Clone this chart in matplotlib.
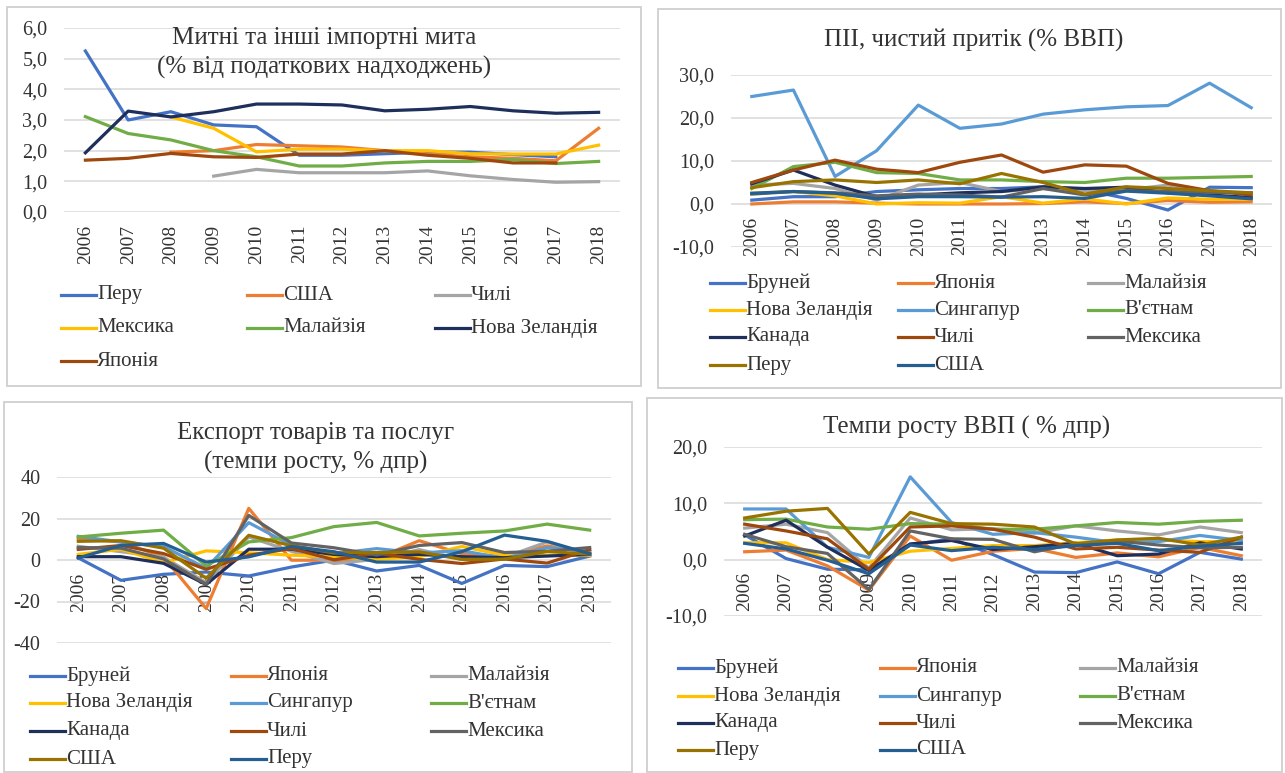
import numpy as np
import matplotlib.pyplot as plt
from matplotlib.lines import Line2D
from matplotlib.patches import Rectangle

plt.rcParams['font.family'] = ['Liberation Serif', 'DejaVu Serif']

W, H = 1285, 773
TXT = '#333333'
GRID = '#d9d9d9'
nan = np.nan

years = [str(y) for y in range(2006, 2019)]

# --- Митні та інші імпортні мита (% від податкових надходжень)
tariff_names = ['Перу', 'США', 'Чилі', 'Мексика', 'Малайзія', 'Нова Зеландія', 'Японія']
tariff_peru = [5.25, 3.0, 3.27, 2.84, 2.78, 1.85, 1.85, 1.9, 1.95, 1.95, 1.87, 1.8, nan]
tariff_usa = [nan, nan, 1.95, 2.0, 2.2, 2.16, 2.12, 2.0, 1.89, 1.8, 1.75, 1.67, 2.73]
tariff_chile = [nan, nan, nan, 1.17, 1.39, 1.28, 1.28, 1.28, 1.34, 1.18, 1.06, 0.97, 0.99]
tariff_mexico = [nan, nan, 3.1, 2.73, 1.96, 2.05, 2.05, 2.0, 2.0, 1.9, 1.89, 1.89, 2.18]
tariff_malaysia = [3.11, 2.56, 2.35, 2.0, 1.8, 1.5, 1.5, 1.6, 1.65, 1.65, 1.71, 1.58, 1.65]
tariff_nz = [1.93, 3.29, 3.1, 3.27, 3.52, 3.52, 3.49, 3.3, 3.35, 3.44, 3.3, 3.22, 3.25]
tariff_japan = [1.69, 1.75, 1.91, 1.8, 1.78, 1.89, 1.89, 2.0, 1.85, 1.75, 1.6, 1.6, nan]
tariff_series = [tariff_peru, tariff_usa, tariff_chile, tariff_mexico,
                 tariff_malaysia, tariff_nz, tariff_japan]
tariff_colors = ['#4472c4', '#ed7d31', '#a5a5a5', '#ffc000', '#70ad47', '#1f2f5c', '#9e480e']

# --- ПІІ, чистий притік (% ВВП)
fdi_names = ['Бруней', 'Японія', 'Малайзія', 'Нова Зеландія', 'Сингапур', "В'єтнам",
             'Канада', 'Чилі', 'Мексика', 'Перу', 'США']
fdi_brunei = [0.9, 1.7, 1.7, 2.9, 3.3, 3.6, 3.6, 4.0, 3.3, 1.3, -1.4, 3.9, 3.8]
fdi_japan = [0.0, 0.5, 0.5, 0.2, 0.0, 0.0, 0.0, 0.1, 0.5, 0.1, 0.8, 0.4, 0.5]
fdi_malaysia = [4.4, 4.8, 3.6, 0.9, 4.4, 5.0, 2.9, 3.6, 3.1, 3.3, 4.4, 2.9, 2.5]
fdi_nz = [2.5, 2.9, 1.9, 0.0, 0.3, 0.2, 1.7, 0.2, 1.2, 0.0, 1.4, 1.1, 1.1]
fdi_singapore = [25.0, 26.5, 6.4, 12.4, 23.0, 17.6, 18.6, 20.9, 21.9, 22.6, 22.9, 28.1, 22.4]
fdi_vietnam = [3.6, 8.7, 9.7, 7.3, 7.1, 5.6, 5.6, 5.2, 5.0, 6.0, 6.0, 6.2, 6.4]
fdi_canada = [4.7, 7.9, 4.4, 1.7, 2.1, 2.6, 2.9, 4.0, 3.6, 3.9, 2.6, 2.1, 1.5]
fdi_chile = [5.0, 7.9, 10.2, 8.1, 7.3, 9.7, 11.4, 7.4, 9.1, 8.8, 4.8, 3.1, 2.1]
fdi_mexico = [2.3, 2.9, 2.6, 1.9, 2.3, 2.1, 1.6, 3.6, 2.1, 3.1, 2.9, 2.7, 2.6]
fdi_peru = [3.8, 5.2, 5.6, 5.0, 5.6, 4.7, 7.1, 5.0, 2.3, 4.0, 3.6, 3.1, 2.6]
fdi_usa = [2.5, 2.9, 2.5, 1.2, 1.7, 1.7, 1.6, 1.7, 1.3, 3.0, 2.5, 1.9, 1.2]
fdi_series = [fdi_brunei, fdi_japan, fdi_malaysia, fdi_nz, fdi_singapore, fdi_vietnam,
              fdi_canada, fdi_chile, fdi_mexico, fdi_peru, fdi_usa]

# --- Експорт товарів та послуг (темпи росту, % дпр)
exp_names = ['Бруней', 'Японія', 'Малайзія', 'Нова Зеландія', 'Сингапур', "В'єтнам",
             'Канада', 'Чилі', 'Мексика', 'США', 'Перу']
exp_brunei = [1.0, -9.8, -6.9, -5.8, -7.7, -3.4, 0.0, -5.3, -2.6, -11.3, -2.6, -3.2, 1.9]
exp_japan = [10.3, 8.7, 1.4, -23.4, 24.9, -0.1, -0.1, 0.8, 9.3, 3.0, 1.7, 6.8, 3.4]
exp_malaysia = [6.6, 4.0, 1.4, -10.9, 11.1, 4.2, -1.7, 0.3, 5.0, 0.3, 1.3, 8.7, 2.2]
exp_nz = [2.7, 5.2, -1.3, 4.4, 3.5, 2.3, 1.6, 0.3, 1.6, 6.5, 2.3, 2.3, 2.3]
exp_singapore = [11.4, 8.7, 6.5, -4.0, 18.0, 7.1, 3.0, 5.5, 3.4, 4.5, 0.8, 5.9, 4.2]
exp_vietnam = [11.1, 12.9, 14.4, -2.9, 8.7, 10.8, 16.1, 18.1, 11.6, 12.9, 14.0, 17.3, 14.4]
exp_canada = [1.6, 1.6, -1.6, -11.8, 5.2, 5.2, 2.7, 1.6, 2.7, 1.6, 1.1, 1.9, 2.7]
exp_chile = [5.1, 7.0, 3.1, -4.5, 2.3, 5.5, 0.1, 3.3, 0.3, -1.7, 0.5, -1.5, 5.0]
exp_mexico = [6.0, 5.7, 0.5, -11.7, 21.5, 8.2, 5.9, 2.4, 7.0, 8.4, 3.6, 4.2, 6.0]
exp_usa = [9.0, 9.3, 5.7, -8.8, 11.9, 6.9, 3.4, 3.6, 3.9, 0.3, 0.4, 4.1, 2.8]
exp_peru = [1.0, 7.0, 8.0, -1.0, 1.5, 6.5, 4.0, -1.0, -1.0, 4.0, 12.0, 9.0, 3.0]
exp_series = [exp_brunei, exp_japan, exp_malaysia, exp_nz, exp_singapore, exp_vietnam,
              exp_canada, exp_chile, exp_mexico, exp_usa, exp_peru]

# --- Темпи росту ВВП ( % дпр)
gdp_names = fdi_names
gdp_brunei = [4.4, 0.2, -1.7, -1.8, 2.6, 3.7, 0.9, -2.2, -2.3, -0.4, -2.5, 1.3, 0.1]
gdp_japan = [1.4, 1.7, -1.1, -5.4, 4.2, -0.1, 1.5, 2.0, 0.4, 1.2, 0.5, 2.2, 0.7]
gdp_malaysia = [5.6, 6.3, 4.8, -1.5, 7.4, 5.3, 5.5, 4.7, 6.0, 5.1, 4.4, 5.8, 4.8]
gdp_nz = [3.0, 3.0, 0.0, -0.5, 1.5, 2.0, 2.5, 2.5, 3.0, 3.5, 3.5, 3.2, 3.2]
gdp_singapore = [9.0, 9.0, 2.2, 0.4, 14.7, 6.6, 4.5, 4.8, 4.0, 3.0, 3.2, 4.3, 3.4]
gdp_vietnam = [7.1, 7.2, 5.8, 5.4, 6.4, 6.3, 5.4, 5.4, 6.0, 6.6, 6.3, 6.8, 7.0]
gdp_canada = [4.2, 7.0, 2.2, -1.9, 2.8, 3.4, 1.8, 2.3, 2.9, 0.7, 1.0, 3.0, 1.9]
gdp_chile = [6.3, 5.1, 3.7, -1.7, 5.8, 6.0, 5.4, 4.0, 1.9, 2.2, 1.7, 1.3, 4.0]
gdp_mexico = [4.5, 2.3, 1.1, -5.3, 5.1, 3.7, 3.6, 1.4, 2.8, 3.3, 2.6, 2.1, 2.2]
gdp_peru = [7.4, 8.6, 9.1, 1.0, 8.4, 6.4, 6.3, 5.8, 2.8, 3.5, 3.8, 2.6, 4.0]
gdp_usa = [2.9, 1.9, -0.1, -2.5, 2.6, 1.6, 2.2, 1.8, 2.5, 2.9, 1.6, 2.4, 2.9]
gdp_series = [gdp_brunei, gdp_japan, gdp_malaysia, gdp_nz, gdp_singapore, gdp_vietnam,
              gdp_canada, gdp_chile, gdp_mexico, gdp_peru, gdp_usa]

office_colors = ['#4472c4', '#ed7d31', '#a5a5a5', '#ffc000', '#5b9bd5', '#70ad47',
                 '#1f2f5c', '#9e480e', '#636363', '#997300', '#255e91']

fig = plt.figure(figsize=(W / 100, H / 100), dpi=100)


def fx(x):
    return x / W


def fy(y):
    return 1 - y / H


def make_axes(left, top, right, bottom):
    return fig.add_axes([fx(left), fy(bottom), (right - left) / W, (bottom - top) / H])


def setup(ax, ylim, yticks, ylabels):
    ax.set_xlim(-0.5, 12.5)
    ax.set_ylim(*ylim)
    for s in ax.spines.values():
        s.set_visible(False)
    # категорії перетинають вісь значень у нулі
    ax.spines['bottom'].set_position(('data', 0))
    ax.set_yticks(yticks)
    ax.set_yticklabels(ylabels)
    ax.set_xticks(range(len(years)))
    ax.set_xticklabels(years)
    ax.grid(axis='y', color=GRID, lw=1.1)
    ax.set_axisbelow(True)
    ax.tick_params(axis='y', length=0, pad=12, labelsize=14.5, labelcolor=TXT)
    ax.tick_params(axis='x', length=0, pad=9, labelsize=14, labelcolor=TXT,
                   labelrotation=90)
    ax.patch.set_alpha(0)


def draw_lines(ax, series, colors):
    x = np.arange(len(years))
    for vals, c in zip(series, colors):
        ax.plot(x, vals, color=c, lw=2.3, solid_joinstyle='round')


def draw_legend(names, colors, col_x, row_y):
    for i, (n, c) in enumerate(zip(names, colors)):
        r, k = divmod(i, 3)
        x0, y = col_x[k], row_y[r]
        fig.add_artist(Line2D([fx(x0), fx(x0 + 35)], [fy(y), fy(y)], color=c, lw=2.3))
        fig.text(fx(x0 + 36), fy(y), n, ha='left', va='center', fontsize=15, color=TXT)


def frame(left, top, right, bottom):
    fig.add_artist(Rectangle((fx(left), fy(bottom)), (right - left) / W, (bottom - top) / H,
                             fill=False, edgecolor='#cfcfcf', lw=1.3))


def fmt1(v):
    return f'{v:.1f}'.replace('.', ',')


# рамки
frame(7, 7, 641, 386)
frame(658, 9, 1281, 388)
frame(4, 402, 632, 772)
frame(647, 398, 1282, 772)

# панель 1
ax1 = make_axes(64, 28, 620, 212)
setup(ax1, (0, 6), range(7), [fmt1(v) for v in range(7)])
draw_lines(ax1, tariff_series, tariff_colors)
fig.text(fx(324), fy(38), 'Митні та інші імпортні мита', ha='center', va='center',
         fontsize=18, color=TXT)
fig.text(fx(324), fy(67), '(% від податкових надходжень)', ha='center', va='center',
         fontsize=18, color=TXT)
draw_legend(tariff_names, tariff_colors, [61, 247, 435], [295, 328, 361])

# панель 2
ax2 = make_axes(731, 75, 1272, 247)
setup(ax2, (-10, 30), range(-10, 31, 10), [fmt1(v) for v in range(-10, 31, 10)])
draw_lines(ax2, fdi_series, office_colors)
fig.text(fx(974), fy(40), 'ПІІ, чистий притік (% ВВП)', ha='center', va='center',
         fontsize=18, color=TXT)
draw_legend(fdi_names, office_colors, [710, 898, 1088], [283, 310, 337, 365])

# панель 3
ax3 = make_axes(57, 477, 611, 643)
setup(ax3, (-40, 40), range(-40, 41, 20), [str(v) for v in range(-40, 41, 20)])
draw_lines(ax3, exp_series, office_colors)
fig.text(fx(316), fy(433), 'Експорт товарів та послуг', ha='center', va='center',
         fontsize=18, color=TXT)
fig.text(fx(316), fy(462), '(темпи росту, % дпр)', ha='center', va='center',
         fontsize=18, color=TXT)
draw_legend(exp_names, office_colors, [30, 231, 431], [676, 703, 731, 759])

# панель 4
ax4 = make_axes(724, 447, 1262, 616)
setup(ax4, (-10, 20), range(-10, 21, 10), [fmt1(v) for v in range(-10, 21, 10)])
draw_lines(ax4, gdp_series, office_colors)
fig.text(fx(967), fy(427), 'Темпи росту ВВП ( % дпр)', ha='center', va='center',
         fontsize=18, color=TXT)
draw_legend(gdp_names, office_colors, [678, 880, 1080], [668, 696, 723, 750])

fig.savefig('out.png', dpi=100)
